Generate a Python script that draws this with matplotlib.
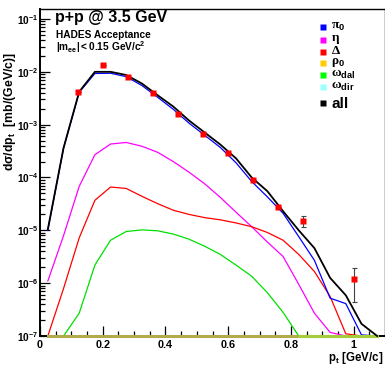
import numpy as np
import matplotlib
matplotlib.use('Agg')
import matplotlib.pyplot as plt
from matplotlib.lines import Line2D

plt.rcParams['font.family'] = ['Liberation Sans', 'DejaVu Sans']
plt.rcParams['font.weight'] = 'bold'
plt.rcParams['mathtext.fontset'] = 'custom'
plt.rcParams['mathtext.rm'] = 'Liberation Serif'
plt.rcParams['mathtext.it'] = 'Liberation Sans:italic'
plt.rcParams['mathtext.bf'] = 'Liberation Sans:bold'

# model cocktail, bin centres (0.05 GeV/c bins)
pt = [0.025, 0.075, 0.125, 0.175, 0.225, 0.275, 0.325, 0.375, 0.425, 0.475, 0.525,
      0.575, 0.625, 0.675, 0.725, 0.775, 0.825, 0.875, 0.925, 0.975, 1.025, 1.075]
pi0 = [1.0e-5, 3.6e-4, 4.1e-3, 9.3e-3, 9.4e-3, 8.1e-3, 5.5e-3, 3.3e-3, 1.95e-3, 1.07e-3, 6.3e-4,
       3.7e-4, 1.9e-4, 8.4e-5, 4.3e-5, 2.1e-5, 7.6e-6, 2.7e-6, 5.2e-7, 4.1e-7, 1.05e-7, 0]
eta = [1.1e-6, 7.9e-6, 6.8e-5, 2.7e-4, 4.3e-4, 4.6e-4, 3.9e-4, 3.0e-4, 2.0e-4, 1.26e-4, 7.6e-5,
       4.2e-5, 2.2e-5, 1.17e-5, 6.0e-6, 3.2e-6, 9.5e-7, 2.7e-7, 1.17e-7, 0, 0, 0]
delta = [1.0e-7, 7.9e-7, 7.2e-6, 3.7e-5, 6.6e-5, 6.2e-5, 4.4e-5, 3.2e-5, 2.4e-5, 2.0e-5, 1.74e-5,
         1.58e-5, 1.38e-5, 1.17e-5, 9.1e-6, 6.5e-6, 3.5e-6, 1.66e-6, 5.6e-7, 1.1e-7, 0, 0]
rho0 = [0] * 22
omega_dal = [0, 1.0e-7, 2.7e-7, 2.2e-6, 6.5e-6, 9.5e-6, 1.02e-5, 9.8e-6, 8.5e-6, 6.8e-6, 5.0e-6,
             3.5e-6, 2.2e-6, 1.35e-6, 6.6e-7, 2.8e-7, 1.0e-7, 0, 0, 0, 0, 0]
omega_dir = [0] * 22
total = [1.05e-5, 3.6e-4, 4.2e-3, 1.0e-2, 1.0e-2, 8.7e-3, 6.0e-3, 3.6e-3, 2.2e-3, 1.2e-3, 7.1e-4,
         4.2e-4, 2.3e-4, 1.0e-4, 5.5e-5, 2.3e-5, 1.0e-5, 4.6e-6, 1.26e-6, 5.9e-7, 1.7e-7, 0]

# HADES data
data_pt = [0.12, 0.2, 0.28, 0.36, 0.44, 0.52, 0.6, 0.68, 0.76, 0.84, 1.0]
data_y = [4.2e-3, 1.35e-2, 8.1e-3, 3.9e-3, 1.6e-3, 6.8e-4, 2.95e-4, 8.9e-5, 2.8e-5, 1.5e-5, 1.18e-6]
data_lo = [0, 0, 0, 0, 0, 0, 0, 0, 0, 1.16e-5, 4.4e-7]
data_hi = [0, 0, 0, 0, 0, 0, 0, 0, 0, 1.9e-5, 1.93e-6]

ymin, ymax = 1e-7, 0.1545

def floor(v):
    v = np.array(v, dtype=float)
    return np.where(v > ymin, v, ymin)

fig = plt.figure(figsize=(3.85, 3.66), dpi=100)
ax = fig.add_axes([40/385, 30/366, 345/385, 327/366])

# zero bins end up on the frame bottom, like ROOT does
ax.plot(pt, floor(omega_dir), color='#99ffff', lw=1, clip_on=False)
ax.plot(pt, floor(rho0), color='#b1ab4c', lw=2.2, clip_on=False, zorder=3)
ax.plot(pt, floor(eta), color='#ff00ff', lw=0.9, clip_on=False, zorder=2)
ax.plot(pt, floor(delta), color='#ff0000', lw=0.9, clip_on=False, zorder=2)
ax.plot(pt, floor(pi0), color='#0000ff', lw=0.9, clip_on=False, zorder=2)
g = floor(omega_dal)
ax.plot(pt, g, color='#00e000', lw=0.9, clip_on=False, zorder=2)
ax.plot(pt[16:], g[16:], color='#a4cc3c', lw=2.2, clip_on=False, zorder=3)
ax.plot(pt, floor(total), color='black', lw=1.3, clip_on=False, zorder=4)

y = np.array(data_y)
lo = np.where(np.array(data_lo) > 0, y - np.array(data_lo), 0)
hi = np.where(np.array(data_hi) > 0, np.array(data_hi) - y, 0)
ax.errorbar(data_pt, y, yerr=[lo, hi], fmt='none', ecolor='#444444', elinewidth=0.8,
            capsize=1.8, capthick=0.8, zorder=5)
ax.plot(data_pt, y, 's', color='#ff0000', ms=4.2, mec='none', zorder=6)

ax.set_yscale('log')
ax.set_xlim(0, 1.1)
ax.set_ylim(ymin, ymax)
ax.set_xticks([0, 0.2, 0.4, 0.6, 0.8, 1.0])
ax.set_xticklabels(['0', '0.2', '0.4', '0.6', '0.8', '1'])
ax.set_xticks(np.arange(0, 1.1, 0.05), minor=True)
ax.set_yticks([10.0**k for k in range(-7, 0)])
ax.set_yticklabels([r'$\mathbf{10^{%d}}$' % k for k in range(-7, 0)])
ax.yaxis.set_minor_locator(matplotlib.ticker.LogLocator(subs=np.arange(2, 10), numticks=20))
ax.yaxis.set_minor_formatter(matplotlib.ticker.NullFormatter())
ax.tick_params(which='both', direction='in', top=False, right=False, width=0.9)
ax.tick_params(which='major', length=7.5)
ax.tick_params(which='minor', length=3.8)
ax.tick_params(axis='x', labelsize=7.8, pad=3)
ax.tick_params(axis='y', labelsize=7.3, pad=1)
for s in ax.spines.values():
    s.set_linewidth(1.0)
ax.spines['left'].set_linewidth(1.4)
ax.spines['bottom'].set_linewidth(1.4)

fig.text(55/385, 1 - 17.5/366, 'p+p @ 3.5 GeV', fontsize=11.5, fontweight='bold', va='center')
fig.text(56/385, 1 - 35/366, 'HADES Acceptance', fontsize=7.3, fontweight='bold', va='center')
fig.text(56/385, 1 - 47/366, r'$\mathbf{|m_{ee}| < 0.15\ GeV/c^{2}}$', fontsize=7.3, va='center')
fig.text(10/385, 1 - 112/366, r'$\mathbf{d\sigma/dp_{t}\ \ [mb/(GeV/c)]}$', fontsize=8.8,
         rotation=90, ha='center', va='center')
fig.text(383/385, 1 - 357.5/366, r'$\mathbf{p_{t}\ [GeV/c]}$', fontsize=8.3, ha='right', va='center')

# legend
leg = [(r'$\mathrm{\pi}_{\mathbf{0}}$', '#0000ff'), (r'$\mathrm{\eta}$', '#ff00ff'),
       (r'$\mathrm{\Delta}$', '#ff0000'), (r'$\mathrm{\rho}_{\mathbf{0}}$', '#ffcc00'),
       (r'$\mathrm{\omega}_{\mathbf{dal}}$', '#00ff00'), (r'$\mathrm{\omega}_{\mathbf{dir}}$', '#99ffff')]
rows = [27, 39.5, 51.5, 63.3, 75, 86.7]
for (lab, col), r in zip(leg, rows):
    fig.add_artist(Line2D([322.5/385], [1 - r/366], marker='s', color=col, ms=4.5, mec='none'))
    fig.text(331/385, 1 - (r - 0.5)/366, lab, fontsize=9.5, va='center')
fig.add_artist(Line2D([322.5/385], [1 - 102.7/366], marker='s', color='black', ms=4.5, mec='none'))
fig.text(331/385, 1 - 104/366, 'all', fontsize=11, fontweight='bold', va='center')

fig.savefig('out.png', dpi=100)
